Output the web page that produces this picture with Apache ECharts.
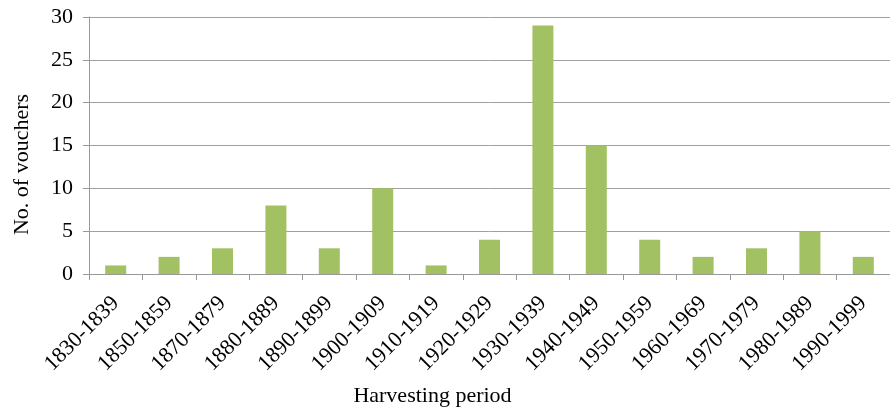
<!DOCTYPE html>
<html><head><meta charset="utf-8">
<script src="https://cdn.jsdelivr.net/npm/echarts@6/dist/echarts.min.js"></script>
<style>html,body{margin:0;padding:0;background:#fff}#c{width:890px;height:412px}</style>
</head><body><div id="c"></div>
<script>
const categories = ["1830-1839","1850-1859","1870-1879","1880-1889","1890-1899","1900-1909","1910-1919","1920-1929","1930-1939","1940-1949","1950-1959","1960-1969","1970-1979","1980-1989","1990-1999"];
const vouchers = [1,2,3,8,3,10,1,4,29,15,4,2,3,5,2];
const yTicks = [0,5,10,15,20,25,30];
const font = '"Liberation Serif","Times New Roman",serif';
const chart = echarts.init(document.getElementById('c'));
chart.setOption({
  animation:false,
  grid:{left:89,right:0,top:17,bottom:136},
  xAxis:{type:'category',data:categories,
    name:'Harvesting period',nameLocation:'middle',nameGap:111,
    nameTextStyle:{fontFamily:font,fontSize:22,color:'#000',padding:[0,114,0,0]},
    axisLine:{lineStyle:{color:'#999',width:1}},
    axisTick:{show:true,alignWithLabel:false,length:6,lineStyle:{color:'#999'}},
    axisLabel:{rotate:45,fontFamily:font,fontSize:22,color:'#000',margin:26,interval:0}},
  yAxis:{type:'value',min:yTicks[0],max:yTicks[yTicks.length-1],interval:5,
    name:'No. of vouchers',nameLocation:'middle',nameGap:56,
    nameTextStyle:{fontFamily:font,fontSize:22,color:'#000',padding:[0,38,0,0]},
    axisLine:{show:true,lineStyle:{color:'#999'}},
    axisTick:{show:true,length:6,lineStyle:{color:'#999'}},
    splitLine:{lineStyle:{color:'#a0a0a0',width:1}},
    axisLabel:{fontFamily:font,fontSize:22,color:'#000',margin:16}},
  series:[{type:'bar',data:vouchers,barWidth:21,itemStyle:{color:'#A2C163'}}]
});
</script></body></html>
